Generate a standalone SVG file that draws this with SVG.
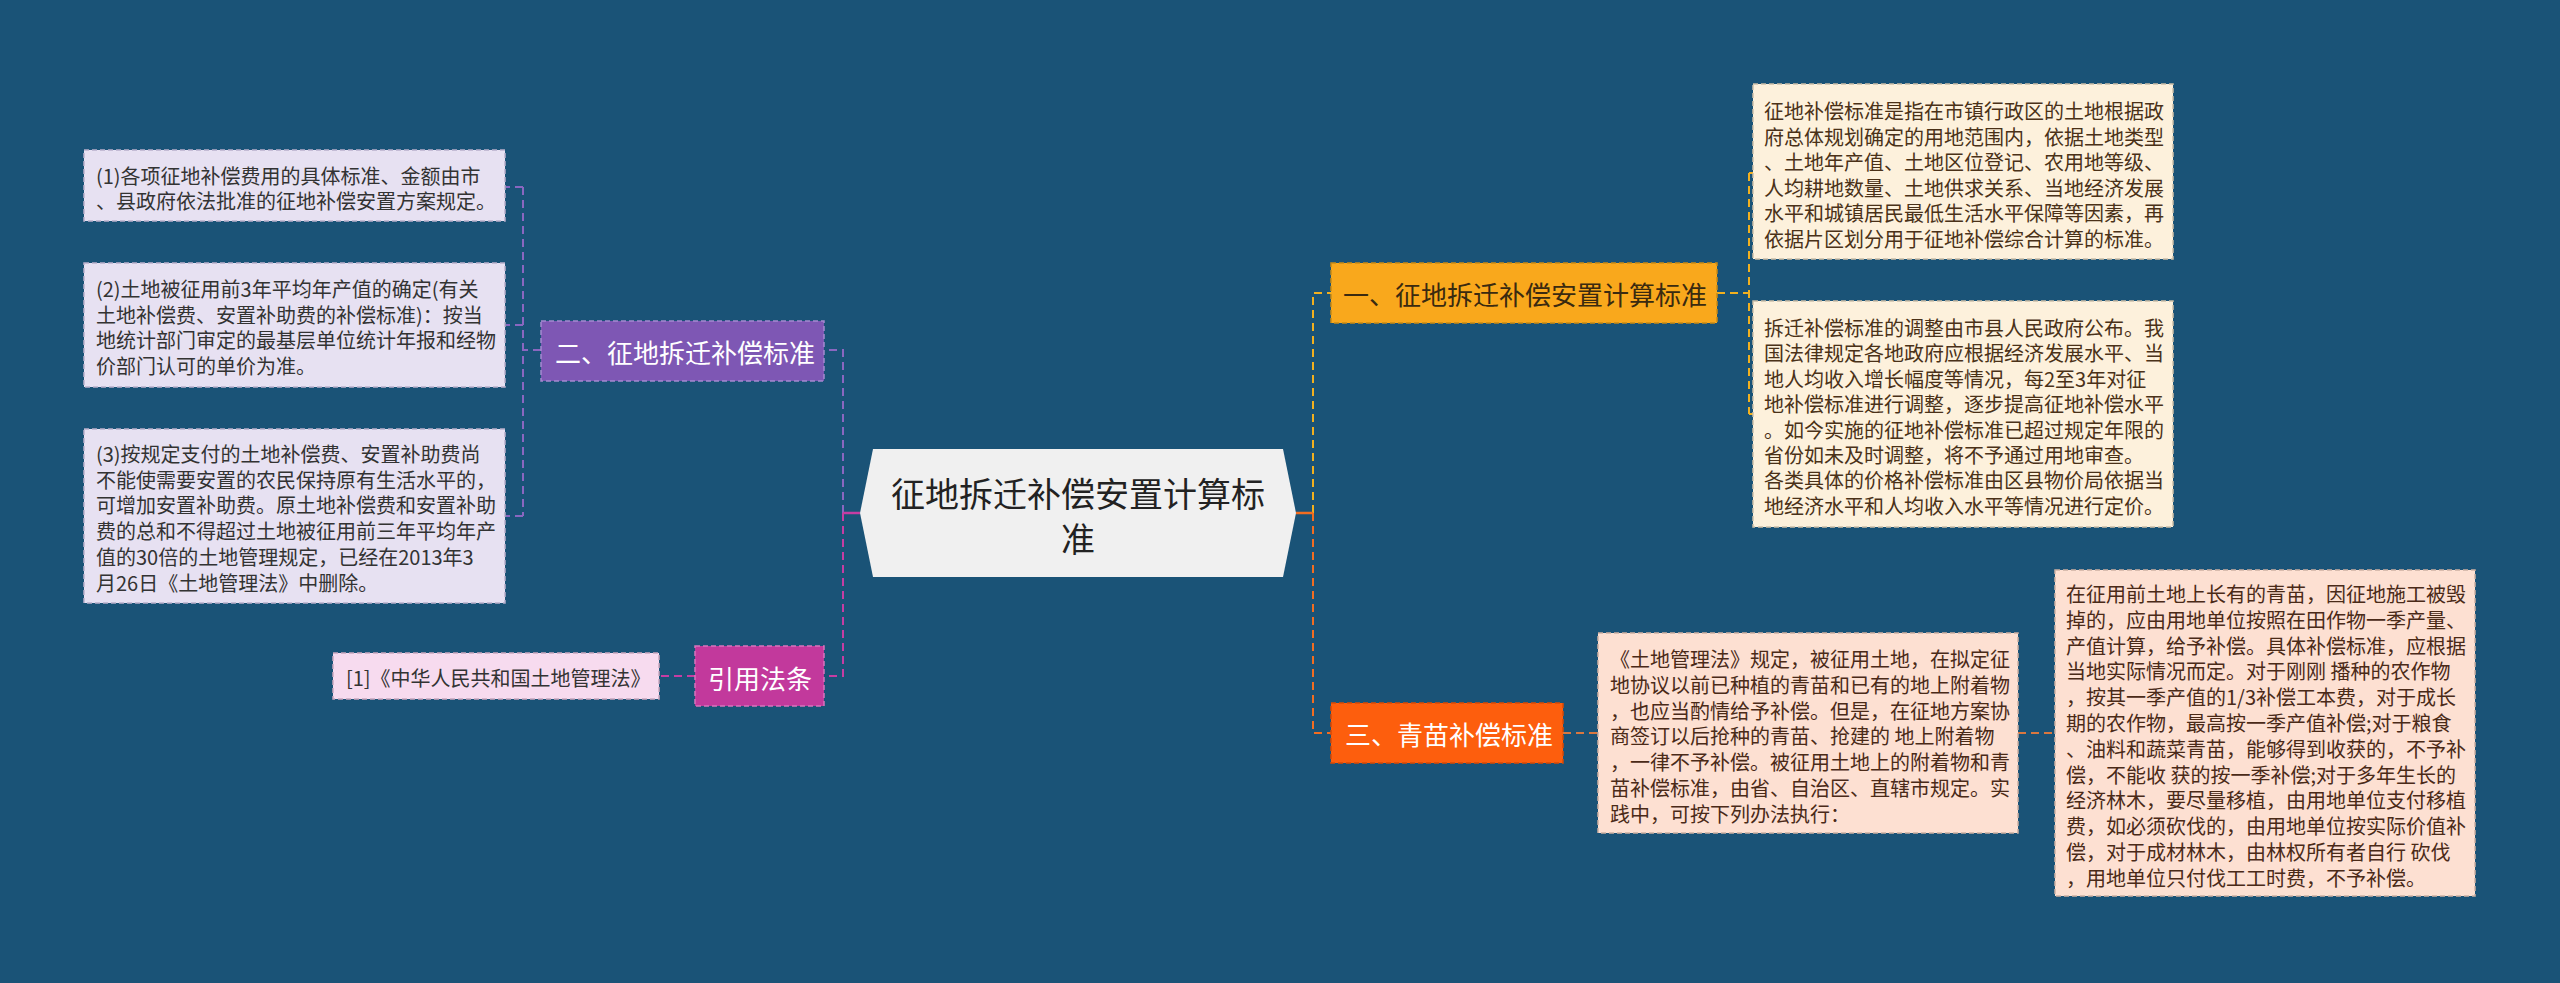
<svg xmlns="http://www.w3.org/2000/svg" width="2560" height="983" viewBox="0 0 2560 983">
<style>
text{font-family:"Noto Sans CJK SC","Noto Sans",sans-serif;dominant-baseline:central}
.t20{font-size:20px}
.t26{font-size:26px}
.dash{fill:none;stroke-width:2;stroke-dasharray:8,5}
.solid{fill:none;stroke-width:2.5}
.bx{stroke-width:1.5;stroke-dasharray:5,3}
</style>
<rect x="0" y="0" width="2560" height="983" fill="#1a5377"/>
<g id="connectors">
<path class="dash" stroke="#8a67c0" d="M843,513 V350 H825"/>
<path class="dash" stroke="#c63da3" d="M843,513 V676 H824"/>
<path class="solid" stroke="#c63da3" d="M860,513 H843"/>
<path class="dash" stroke="#8a67c0" d="M541,350 H523 M523,187 V516 M523,187 H506 M523,325 H506 M523,516 H506"/>
<path class="dash" stroke="#c63da3" d="M695,676 H659"/>
<path class="dash" stroke="#f2b01f" d="M1313,513 V293 H1331"/>
<path class="dash" stroke="#f26d21" d="M1313,513 V733 H1331"/>
<path class="solid" stroke="#f26d21" d="M1296,513 H1313"/>
<path class="dash" stroke="#f2b01f" d="M1717,293 H1749 M1749,173 V414 M1749,173 H1753 M1749,414 H1753"/>
<path class="dash" stroke="#d9773f" d="M1563,733 H1598 M2018,733 H2055"/>
</g>
<g id="center">
<polygon points="860,513 873,449 1283,449 1296,513 1283,577 873,577" fill="#f0f0f0"/>
<text x="1078" y="492" font-size="34" fill="#222" text-anchor="middle">征地拆迁补偿安置计算标</text>
<text x="1078" y="537" font-size="34" fill="#222" text-anchor="middle">准</text>
</g>
<g id="n2">
<rect x="541" y="321" width="283" height="60" fill="#7e57b4" stroke="#a48ad0" class="bx"/>
<text x="555" y="351" class="t26" fill="#fff">二、征地拆迁补偿标准</text>
</g>
<g id="n2c1">
<rect x="84" y="150" width="421" height="71" fill="#e7e1f2" stroke="#b9b0cc" class="bx"/>
<text class="t20" fill="#333"><tspan x="96" y="175">(1)各项征地补偿费用的具体标准、金额由市</tspan><tspan x="96" y="200">、县政府依法批准的征地补偿安置方案规定。</tspan></text>
</g>
<g id="n2c2">
<rect x="84" y="263" width="421" height="124" fill="#e7e1f2" stroke="#b9b0cc" class="bx"/>
<text class="t20" fill="#333"><tspan x="96" y="288">(2)土地被征用前3年平均年产值的确定(有关</tspan><tspan x="96" y="313.7">土地补偿费、安置补助费的补偿标准)：按当</tspan><tspan x="96" y="339.4">地统计部门审定的最基层单位统计年报和经物</tspan><tspan x="96" y="365.1">价部门认可的单价为准。</tspan></text>
</g>
<g id="n2c3">
<rect x="84" y="429" width="421" height="174" fill="#e7e1f2" stroke="#b9b0cc" class="bx"/>
<text class="t20" fill="#333"><tspan x="96" y="453">(3)按规定支付的土地补偿费、安置补助费尚</tspan><tspan x="96" y="478.7">不能使需要安置的农民保持原有生活水平的，</tspan><tspan x="96" y="504.4">可增加安置补助费。原土地补偿费和安置补助</tspan><tspan x="96" y="530.1">费的总和不得超过土地被征用前三年平均年产</tspan><tspan x="96" y="555.8">值的30倍的土地管理规定，已经在2013年3</tspan><tspan x="96" y="581.5">月26日《土地管理法》中删除。</tspan></text>
</g>
<g id="ref">
<rect x="695" y="646" width="129" height="60" fill="#c2399c" stroke="#d874bd" class="bx"/>
<text x="708" y="677" class="t26" fill="#fff">引用法条</text>
</g>
<g id="refc1">
<rect x="333" y="653" width="326" height="46" fill="#f7dbef" stroke="#c9a8bf" class="bx"/>
<text x="346" y="677" class="t20" fill="#333">[1]《中华人民共和国土地管理法》</text>
</g>
<g id="n1">
<rect x="1331" y="263" width="386" height="60" fill="#f9a81c" stroke="#c98a14" class="bx"/>
<text x="1343" y="293" class="t26" fill="#3a2a10">一、征地拆迁补偿安置计算标准</text>
</g>
<g id="n1c1">
<rect x="1753" y="84" width="420" height="175" fill="#fdf1dc" stroke="#cbbfa8" class="bx"/>
<text class="t20" fill="#4a3118"><tspan x="1764" y="110">征地补偿标准是指在市镇行政区的土地根据政</tspan><tspan x="1764" y="135.5">府总体规划确定的用地范围内，依据土地类型</tspan><tspan x="1764" y="161">、土地年产值、土地区位登记、农用地等级、</tspan><tspan x="1764" y="186.5">人均耕地数量、土地供求关系、当地经济发展</tspan><tspan x="1764" y="212">水平和城镇居民最低生活水平保障等因素，再</tspan><tspan x="1764" y="237.5">依据片区划分用于征地补偿综合计算的标准。</tspan></text>
</g>
<g id="n1c2">
<rect x="1753" y="301" width="420" height="226" fill="#fdf1dc" stroke="#cbbfa8" class="bx"/>
<text class="t20" fill="#4a3118"><tspan x="1764" y="327">拆迁补偿标准的调整由市县人民政府公布。我</tspan><tspan x="1764" y="352.4">国法律规定各地政府应根据经济发展水平、当</tspan><tspan x="1764" y="377.8">地人均收入增长幅度等情况，每2至3年对征</tspan><tspan x="1764" y="403.2">地补偿标准进行调整，逐步提高征地补偿水平</tspan><tspan x="1764" y="428.6">。如今实施的征地补偿标准已超过规定年限的</tspan><tspan x="1764" y="454">省份如未及时调整，将不予通过用地审查。</tspan><tspan x="1764" y="479.4">各类具体的价格补偿标准由区县物价局依据当</tspan><tspan x="1764" y="504.8">地经济水平和人均收入水平等情况进行定价。</tspan></text>
</g>
<g id="n3">
<rect x="1331" y="703" width="232" height="60" fill="#fd5e0d" stroke="#d94a05" class="bx"/>
<text x="1345" y="733" class="t26" fill="#fff">三、青苗补偿标准</text>
</g>
<g id="n3c1">
<rect x="1598" y="633" width="420" height="200" fill="#fde0d2" stroke="#cdb0a2" class="bx"/>
<text class="t20" fill="#4a2a18"><tspan x="1610" y="658">《土地管理法》规定，被征用土地，在拟定征</tspan><tspan x="1610" y="683.8">地协议以前已种植的青苗和已有的地上附着物</tspan><tspan x="1610" y="709.6">，也应当酌情给予补偿。但是，在征地方案协</tspan><tspan x="1610" y="735.4">商签订以后抢种的青苗、抢建的 地上附着物</tspan><tspan x="1610" y="761.2">，一律不予补偿。被征用土地上的附着物和青</tspan><tspan x="1610" y="787">苗补偿标准，由省、自治区、直辖市规定。实</tspan><tspan x="1610" y="812.8">践中，可按下列办法执行：</tspan></text>
</g>
<g id="n3c2">
<rect x="2055" y="570" width="420" height="326" fill="#fde0d2" stroke="#cdb0a2" class="bx"/>
<text class="t20" fill="#4a2a18"><tspan x="2066" y="593">在征用前土地上长有的青苗，因征地施工被毁</tspan><tspan x="2066" y="618.8">掉的，应由用地单位按照在田作物一季产量、</tspan><tspan x="2066" y="644.6">产值计算，给予补偿。具体补偿标准，应根据</tspan><tspan x="2066" y="670.4">当地实际情况而定。对于刚刚 播种的农作物</tspan><tspan x="2066" y="696.2">，按其一季产值的1/3补偿工本费，对于成长</tspan><tspan x="2066" y="722">期的农作物，最高按一季产值补偿;对于粮食</tspan><tspan x="2066" y="747.8">、油料和蔬菜青苗，能够得到收获的，不予补</tspan><tspan x="2066" y="773.6">偿，不能收 获的按一季补偿;对于多年生长的</tspan><tspan x="2066" y="799.4">经济林木，要尽量移植，由用地单位支付移植</tspan><tspan x="2066" y="825.2">费，如必须砍伐的，由用地单位按实际价值补</tspan><tspan x="2066" y="851">偿，对于成材林木，由林权所有者自行 砍伐</tspan><tspan x="2066" y="876.8">，用地单位只付伐工工时费，不予补偿。</tspan></text>
</g>
</svg>
